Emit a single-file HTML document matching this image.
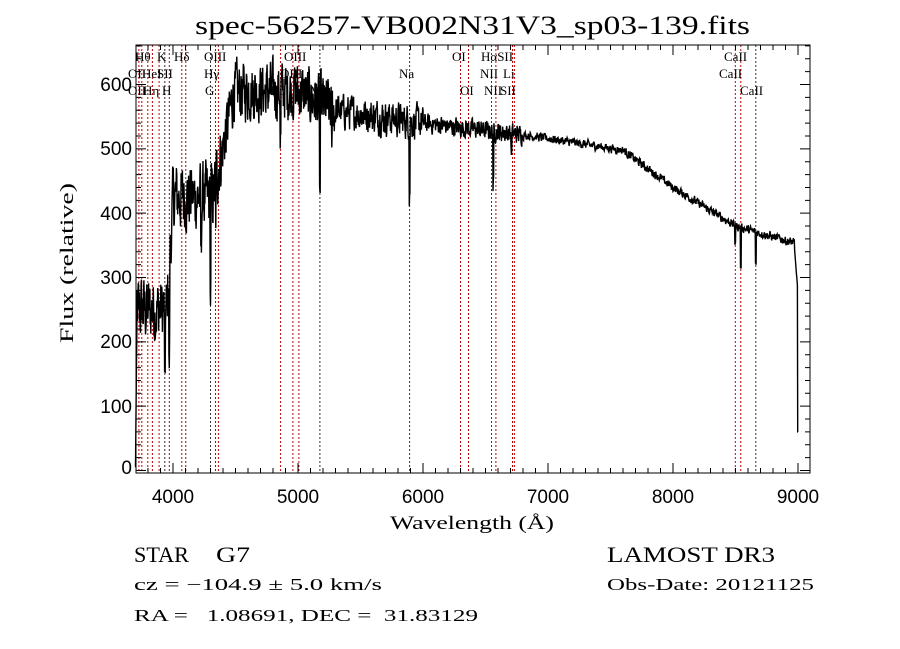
<!DOCTYPE html>
<html><head><meta charset="utf-8"><style>
html,body{margin:0;padding:0;background:#fff;width:900px;height:649px;overflow:hidden}
svg{display:block}
text{font-family:"Liberation Serif",serif;fill:#000}
.s{font-family:"Liberation Serif",serif;font-size:13px}
</style></head><body>
<svg id="c" width="900" height="649" viewBox="0 0 900 649">
<text x="195" y="34" font-size="26" textLength="555" lengthAdjust="spacingAndGlyphs">spec-56257-VB002N31V3_sp03-139.fits</text>
<g id="lines"></g>
<path id="sp" fill="none" stroke="#000" stroke-width="1.4"/>
<rect x="136" y="45" width="674" height="428" fill="none" stroke="#000" stroke-width="1"/>
<g id="ticks" stroke="#000" stroke-width="1"></g>
<g font-size="19" text-anchor="middle" font-family="Liberation Sans">
<text x="173" y="503" style="font-family:'Liberation Sans'">4000</text><text x="298" y="503" style="font-family:'Liberation Sans'">5000</text><text x="423" y="503" style="font-family:'Liberation Sans'">6000</text>
<text x="548" y="503" style="font-family:'Liberation Sans'">7000</text><text x="673" y="503" style="font-family:'Liberation Sans'">8000</text><text x="798" y="503" style="font-family:'Liberation Sans'">9000</text>
</g>
<g font-size="19" text-anchor="end">
<text x="132" y="91" style="font-family:'Liberation Sans'">600</text><text x="132" y="155" style="font-family:'Liberation Sans'">500</text><text x="132" y="220" style="font-family:'Liberation Sans'">400</text>
<text x="132" y="284" style="font-family:'Liberation Sans'">300</text><text x="132" y="348" style="font-family:'Liberation Sans'">200</text><text x="132" y="413" style="font-family:'Liberation Sans'">100</text><text x="132" y="474" style="font-family:'Liberation Sans'">0</text>
</g>
<text x="390" y="529" font-size="19" textLength="164" lengthAdjust="spacingAndGlyphs">Wavelength (Å)</text>
<text transform="translate(73,343) rotate(-90)" font-size="19" textLength="160" lengthAdjust="spacingAndGlyphs">Flux (relative)</text>
<g class="s">
<text x="135" y="61">Hθ</text><text x="157" y="61">K</text><text x="174" y="61">Hδ</text><text x="204" y="61">OIII</text><text x="284" y="61">OIII</text><text x="452" y="61">OI</text><text x="481" y="61">HαSII</text><text x="724" y="61">CaII</text>
<text x="128" y="78">OII</text><text x="142" y="78">HeI</text><text x="157" y="78">SII</text><text x="204" y="78">Hγ</text><text x="280" y="78">OIII</text><text x="399" y="78">Na</text><text x="480" y="78">NII</text><text x="503" y="78">Li</text><text x="719" y="78">CaII</text>
<text x="128" y="95">OII</text><text x="143" y="95">Hη</text><text x="162" y="95">H</text><text x="205" y="95">G</text><text x="270" y="95">Hβ</text><text x="310" y="95">Mg</text><text x="460" y="95">OI</text><text x="484" y="95">NII</text><text x="500" y="95">SII</text><text x="740" y="95">CaII</text>
</g>
<g font-size="22"><text x="134" y="562" textLength="55" lengthAdjust="spacingAndGlyphs">STAR</text><text x="216" y="562" textLength="34" lengthAdjust="spacingAndGlyphs">G7</text><text x="607" y="562" textLength="168" lengthAdjust="spacingAndGlyphs">LAMOST DR3</text></g>
<g font-size="17"><text x="134" y="590" textLength="248" lengthAdjust="spacingAndGlyphs">cz = −104.9 ± 5.0 km/s</text><text x="607" y="590" textLength="207" lengthAdjust="spacingAndGlyphs">Obs-Date: 20121125</text>
<text x="134" y="621" xml:space="preserve" textLength="344" lengthAdjust="spacingAndGlyphs">RA =   1.08691, DEC =  31.83129</text></g>
</svg>
<script>
var X=function(l){return 173+(l-4000)*0.125},Y=function(f){return 470.5-0.6433*f};
var ns="http://www.w3.org/2000/svg";
var red=[3727,3750,3798,3835,3889,3970,4070,4340,4363,4861,4959,5007,6300,6364,6548,6583,6716,6731,8498,8542];
var blk=[3934,4102,4300,5175,5893,8662];
var g=document.getElementById('lines');
function vl(l,c){var e=document.createElementNS(ns,'line');var x=X(l).toFixed(1);e.setAttribute('x1',x);e.setAttribute('x2',x);e.setAttribute('y1',45);e.setAttribute('y2',473);e.setAttribute('stroke',c);e.setAttribute('stroke-dasharray','2,2');e.setAttribute('stroke-width','1');g.appendChild(e);}
red.forEach(function(l){vl(l,'#c00000')});blk.forEach(function(l){vl(l,'#333')});
var t=document.getElementById('ticks'),d='';
for(var l=3700;l<=9080;l+=100){var x=X(l);if(x<136||x>810)continue;var h=(l%1000==0)?10:5;d+='M'+x+' 473v-'+h+'M'+x+' 45v'+h;}
for(var f=0;f<=660;f+=20){var y=Y(f);if(y<45)continue;var h=(f%100==0)?10:5;d+='M136 '+y+'h'+h+'M810 '+y+'h-'+h;}
var p=document.createElementNS(ns,'path');p.setAttribute('d',d);t.appendChild(p);
var s=12345;function r(){s=(s*1103515245+12345)%2147483648;return s/2147483648;}
function lin(l,a,b,fa,fb){return fa+(fb-fa)*(l-a)/(b-a);}
function base(l){
 if(l<3950)return 250;
 if(l<4000)return lin(l,3950,4000,250,420);
 if(l<4330)return 425;
 if(l<4480)return lin(l,4330,4480,440,580);
 if(l<5000)return 590;
 if(l<5300)return lin(l,5000,5300,590,560);
 if(l<6000)return lin(l,5300,6000,560,540);
 if(l<6800)return lin(l,6000,6800,540,522);
 if(l<7600)return lin(l,6800,7600,522,498);
 if(l<8000)return lin(l,7600,8000,498,440);
 if(l<8500)return lin(l,8000,8500,440,380);
 return lin(l,8500,9000,380,352);}
function noise(l){if(l<4000)return 70;if(l<4400)return 70;if(l<5300)return 60;if(l<6000)return 35;if(l<6800)return 20;return 9;}
var dips={3934:-120,3970:-150,4300:-150,4340:-60,4861:-70,5175:-140,5893:-105,6563:-85,8498:-25,8542:-60,8662:-50,4226:-80,5270:-60,6708:-30};
var pts=[],prev=0;
for(var l=3700;l<=9000;l+=2.5){
 var n=noise(l);prev=prev*0.4+(r()-0.5)*n*1.3;var f=base(l)+prev;
 for(var k in dips){if(Math.abs(l-k)<4)f+=dips[k];}
 if(l<3712)f=5+(l-3700)*20;
 if(l>8970)f=350-(l-8970)*2.5;
 if(l>8995)f=60;
 pts.push(X(l).toFixed(1)+','+Y(f).toFixed(1));}
document.getElementById('sp').setAttribute('d','M'+pts.join('L'));
</script>
</body></html>
